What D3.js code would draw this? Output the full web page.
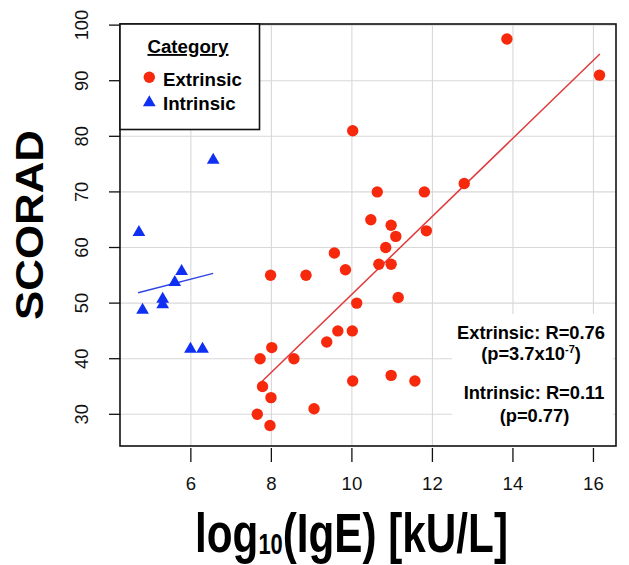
<!DOCTYPE html>
<html>
<head>
<meta charset="utf-8">
<script src="https://cdn.jsdelivr.net/npm/d3@7/dist/d3.min.js"></script>
<style>
  html, body { margin: 0; padding: 0; background: #fff; }
  svg { display: block; }
  text { font-family: "Liberation Sans", Arial, Helvetica, sans-serif; }
</style>
</head>
<body>
<svg id="chart" width="629" height="565"></svg>
<script>
// ---------------- data ----------------
const categories = ["Extrinsic", "Intrinsic"];
const extrinsicX = [13.85, 16.15, 10.02, 12.79, 10.63, 11.80, 10.47, 10.975, 11.85, 11.09, 10.84, 9.565, 10.67, 10.975, 9.84, 7.98, 8.86, 11.15, 10.12, 9.65, 10.01, 9.375, 8.01, 7.72, 8.56, 10.975, 10.02, 11.565, 7.78, 7.99, 9.06, 7.65, 7.965];
const extrinsicY = [97.5, 91, 81, 71.5, 70, 70, 65, 64, 63, 62, 60, 59, 57, 57, 56, 55, 55, 51, 50, 45, 45, 43, 42, 40, 40, 37, 36, 36, 35, 33, 31, 30, 28];
const intrinsicX = [6.555, 4.71, 5.77, 5.60, 5.30, 5.30, 4.80, 5.99, 6.29];
const intrinsicY = [76, 63, 56, 54, 51, 50, 49, 42, 42];
// fitted regression line end points
const extrinsicFitX = [7.70, 16.16];
const extrinsicFitY = [35.45, 94.8];
const intrinsicFitX = [4.69, 6.555];
const intrinsicFitY = [51.87, 55.35];
const xTicks = [6, 8, 10, 12, 14, 16];
const yTicks = [30, 40, 50, 60, 70, 80, 90, 100];
const statLines = ["Extrinsic: R=0.76", "(p=3.7x10|-7|)", "Intrinsic: R=0.11", "(p=0.77)"];

// ---------------- layout ----------------
const svg = d3.select("#chart");
const L = 120, R = 616, T = 24, B = 446;
const x = d3.scaleLinear().domain([4.24, 16.56]).range([L, R]);
const y = d3.scaleLinear().domain([24.3, 100.2]).range([B, T]);
const red = "#f7290d", blue = "#0f2ff2";

// grid
const grid = svg.append("g").attr("stroke", "#d8d8d8").attr("stroke-width", 1.1);
grid.selectAll(".gx").data(xTicks).join("line")
  .attr("x1", d => x(d)).attr("x2", d => x(d)).attr("y1", T).attr("y2", B);
grid.selectAll(".gy").data(yTicks).join("line")
  .attr("x1", L).attr("x2", R).attr("y1", d => y(d)).attr("y2", d => y(d));

// white box behind stats
svg.append("rect").attr("x", 452).attr("y", 314).attr("width", 161).attr("height", 131).attr("fill", "#fff");

// regression lines
const line = d3.line().x(d => x(d[0])).y(d => y(d[1]));
svg.append("path").datum(d3.zip(extrinsicFitX, extrinsicFitY)).attr("d", line)
  .attr("fill", "none").attr("stroke", "#e0393c").attr("stroke-width", 1.5);
svg.append("path").datum(d3.zip(intrinsicFitX, intrinsicFitY)).attr("d", line)
  .attr("fill", "none").attr("stroke", "#2f45e6").attr("stroke-width", 1.5);

// points
svg.append("g").selectAll("circle").data(d3.zip(extrinsicX, extrinsicY)).join("circle")
  .attr("cx", d => x(d[0])).attr("cy", d => y(d[1])).attr("r", 5.7).attr("fill", red);
const tri = d3.symbol().type(d3.symbolTriangle).size(70);
svg.append("g").selectAll("path").data(d3.zip(intrinsicX, intrinsicY)).join("path")
  .attr("d", tri).attr("transform", d => `translate(${x(d[0])},${y(d[1]) + 1.5})`).attr("fill", blue);

// frame
svg.append("rect").attr("x", L).attr("y", T).attr("width", R - L).attr("height", B - T)
  .attr("fill", "none").attr("stroke", "#111").attr("stroke-width", 1.6);

// axes ticks
const ax = svg.append("g").attr("stroke", "#111").attr("stroke-width", 1.3);
ax.selectAll(".tx").data(xTicks).join("line")
  .attr("x1", d => x(d)).attr("x2", d => x(d)).attr("y1", B + 2).attr("y2", B + 16);
ax.selectAll(".ty").data(yTicks).join("line")
  .attr("x1", L - 11).attr("x2", L).attr("y1", d => y(d)).attr("y2", d => y(d));

svg.append("g").selectAll("text").data(xTicks).join("text")
  .attr("x", d => x(d)).attr("y", 490).attr("text-anchor", "middle")
  .attr("font-size", 18.6).attr("fill", "#111").text(d => d);
svg.append("g").selectAll("text").data(yTicks).join("text")
  .attr("transform", d => `translate(88,${y(d)}) rotate(-90)`).attr("text-anchor", "middle")
  .attr("font-size", 18.3).attr("fill", "#111").text(d => d);

// y title
const yt = svg.append("text").attr("text-anchor", "middle").attr("font-weight", "bold")
  .attr("font-size", 39).attr("fill", "#000").text("SCORAD");
const ytw = yt.node().getComputedTextLength();
yt.attr("transform", `translate(43,225) rotate(-90) scale(${190 / ytw},1)`);

// x title
const xt = svg.append("text").attr("text-anchor", "middle").attr("font-weight", "bold")
  .attr("font-size", 56).attr("fill", "#000");
xt.append("tspan").text("log");
xt.append("tspan").attr("font-size", 29).attr("dy", 2).text("10");
xt.append("tspan").attr("dy", -2).text("(IgE) [kU/L]");
const xtw = xt.node().getComputedTextLength();
xt.attr("transform", `translate(351.5,551.5) scale(${313 / xtw},1)`);

// legend
svg.append("rect").attr("x", L).attr("y", T).attr("width", 139.5).attr("height", 105.5)
  .attr("fill", "#fff").attr("stroke", "#111").attr("stroke-width", 1.6);
svg.append("text").attr("x", 188).attr("y", 53).attr("text-anchor", "middle")
  .attr("font-weight", "bold").attr("font-size", 18.7).attr("text-decoration", "underline")
  .attr("fill", "#000").text("Category");
const leg = svg.append("g").selectAll("g").data(categories).join("g")
  .attr("transform", (d, i) => `translate(0,${i * 24})`);
leg.filter((d, i) => i === 0).append("circle").attr("cx", 149.3).attr("cy", 77.3).attr("r", 5.7).attr("fill", red);
leg.filter((d, i) => i === 1).append("path").attr("d", tri)
  .attr("transform", "translate(149.3,78.5)").attr("fill", blue);
leg.append("text").attr("x", 163).attr("y", 86).attr("font-weight", "bold")
  .attr("font-size", 18.7).attr("fill", "#000").text(d => d);

// stats text
const statY = [338.5, 360, 399.2, 421.8];
const statX = [531, 531, 534, 534.5];
statLines.forEach((s, i) => {
  const t = svg.append("text").attr("x", statX[i]).attr("y", statY[i]).attr("text-anchor", "middle")
    .attr("font-weight", "bold").attr("font-size", 18.3).attr("fill", "#000");
  const parts = s.split("|");
  if (parts.length === 1) { t.text(s); }
  else {
    t.append("tspan").text(parts[0]);
    t.append("tspan").attr("font-size", 11).attr("dy", -7).text(parts[1]);
    t.append("tspan").attr("dy", 7).text(parts[2]);
  }
});
</script>
</body>
</html>
